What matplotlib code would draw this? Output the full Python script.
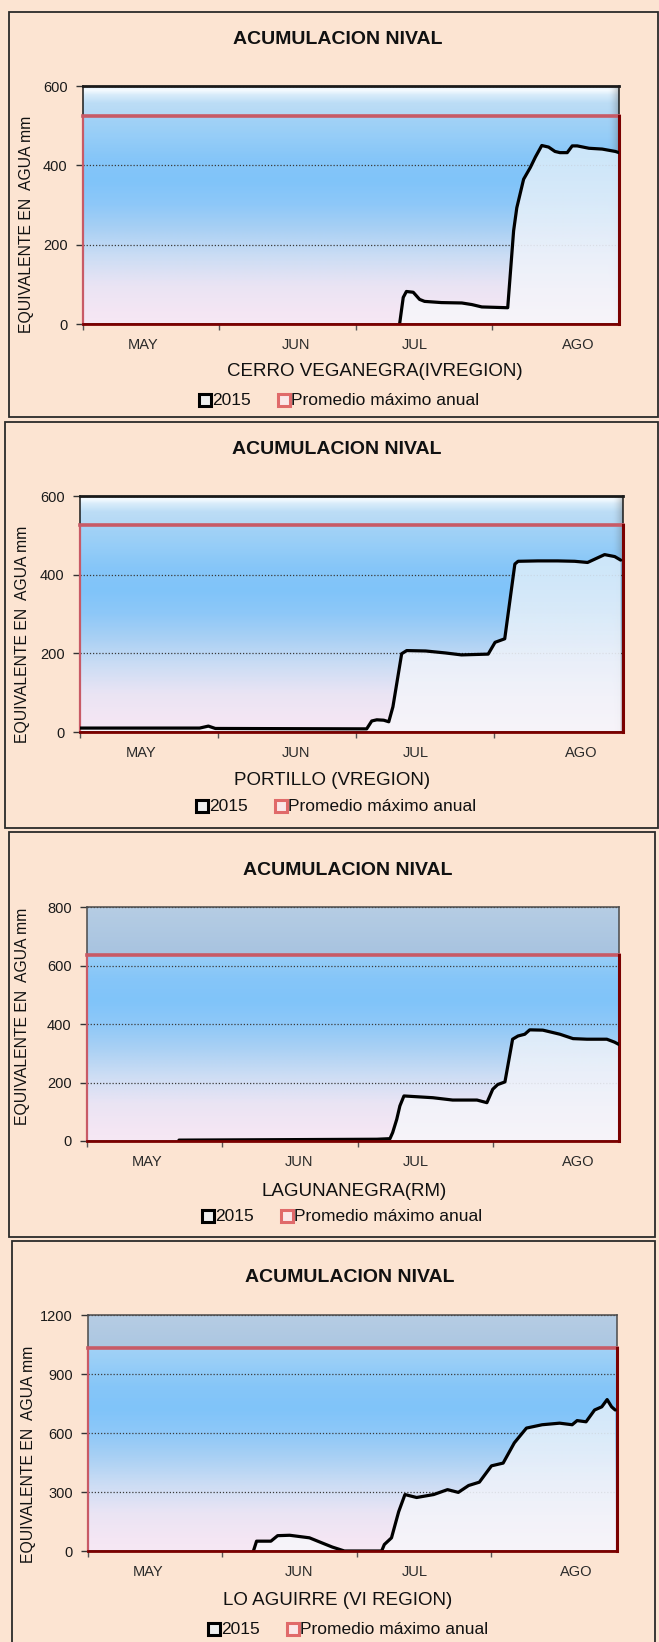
import numpy as np
import matplotlib.pyplot as plt
from matplotlib.colors import LinearSegmentedColormap
from matplotlib.lines import Line2D
from matplotlib.patches import Rectangle

plt.rcParams['font.family'] = ['Liberation Sans', 'DejaVu Sans']

W, H = 659, 1642

# eje x en dias contados desde el 1 de mayo
meses = ['MAY', 'JUN', 'JUL', 'AGO']
pos_meses = [13.3, 47, 73, 109]
marcas_x = [0, 30, 60, 90]
x_fin = 118

titulo = 'ACUMULACION NIVAL'
eje_y = 'EQUIVALENTE EN  AGUA mm'
serie_anio = '2015'
serie_prom = 'Promedio máximo anual'

estaciones = ['CERRO VEGANEGRA(IVREGION)', 'PORTILLO (VREGION)',
              'LAGUNANEGRA(RM)', 'LO AGUIRRE (VI REGION)']
prom_max = [525, 525, 635, 1030]
y_max = [600, 600, 800, 1200]
y_paso = [200, 200, 200, 300]

# 2015, equivalente en agua (mm)
dias_1 = [69.7, 70.5, 71.2, 72.7, 74.1, 75.2, 78.9, 83.4, 85.6, 87.8, 93.5, 94.8,
          95.5, 97.0, 98.5, 99.6, 101.0, 102.5, 103.9, 105.0, 106.6, 107.7, 108.8,
          111.4, 114.3, 117.2, 118.0]
swe_1 = [0, 67, 82, 80, 62, 57, 54, 53, 49, 43, 41, 235,
         293, 365, 395, 421, 450, 446, 435, 432, 432, 449, 449,
         443, 441, 435, 432]

dias_2 = [0, 26, 27.9, 29.4, 62.3, 63.4, 64.5, 66.0, 67.1, 68.0, 69.9, 71.0, 75.1,
          79.4, 82.9, 88.7, 90.2, 92.3, 94.5, 95.2, 99.5, 103.8, 107.5, 110.3,
          114.0, 116.2, 117.5]
swe_2 = [10, 10, 15, 9, 8, 28, 31, 30, 26, 64, 199, 207, 206,
         201, 196, 198, 228, 237, 427, 434, 435, 435, 434, 431,
         451, 446, 437]

dias_3 = [20.4, 64.3, 67.2, 67.8, 68.7, 69.4, 70.3, 76.7, 81.1, 86.5, 88.7, 90.0,
          91.1, 92.7, 94.4, 95.6, 97.1, 98.2, 101.1, 104.9, 107.8, 110.9, 115.3,
          117.0, 118.0]
swe_3 = [3, 6, 8, 29, 74, 120, 154, 148, 140, 140, 131, 177,
         193, 202, 348, 359, 365, 380, 379, 365, 350, 348, 348,
         338, 330]

dias_4 = [36.9, 37.6, 40.8, 42.3, 45.0, 49.4, 52.1, 54.5, 57.2, 65.5, 66.1, 67.7,
          69.3, 70.7, 73.3, 77.1, 80.2, 82.6, 84.9, 87.3, 90.0, 92.6, 95.1, 97.8,
          101.3, 105.2, 108.0, 109.1, 111.1, 113.0, 114.6, 115.8, 116.8, 117.6]
swe_4 = [0, 50, 50, 78, 80, 67, 42, 20, 0, 0, 33, 67,
         200, 287, 272, 287, 312, 298, 333, 350, 433, 447, 550, 625,
         642, 650, 642, 663, 657, 717, 733, 770, 733, 717]

dias = [dias_1, dias_2, dias_3, dias_4]
swe = [swe_1, swe_2, swe_3, swe_4]

# ubicacion de cada grafico (pixeles)
cajas = [(9, 12, 658, 417), (5, 422, 658, 828), (9, 832, 655, 1237), (12, 1241, 655, 1660)]
areas = [(83, 86, 619, 324), (80, 496, 623, 732), (87, 907, 619, 1141), (88, 1315, 617, 1551)]
pos_titulo = [(338, 40), (337, 450), (348, 870), (350, 1277)]
pos_eje_y = [(27, 224), (23, 634), (23, 1016), (29, 1454)]
pos_sub = [(375, 372), (332, 780), (354, 1191), (338, 1600)]
pos_ley = [(205, 400), (202, 806), (208, 1216), (214, 1629)]

fondo_claro = [(0, '#F3E8F4'), (0.85, '#B0D6F4'), (0.93, '#BCDDF6'), (0.965, '#D8ECFA'),
               (0.985, '#F6FBFF'), (1, '#DDEFFB')]
fondo_gris = [(0, '#F3E8F4'), (0.75, '#A4C1DF'), (1, '#B6CDE4')]
cielo = [(0, '#F6E8F4'), (0.05, '#F4E6F3'), (0.16, '#EAE4F4'), (0.28, '#CCDDF4'),
         (0.4, '#A8D0F4'), (0.5, '#8EC8F8'), (0.6, '#80C4FA'), (0.7, '#86C6F8'),
         (0.8, '#98CEF7'), (0.9, '#A8D4F6'), (1, '#B0D8F6')]
relleno = [(0, '#F8F6FB'), (0.3, '#EEF2FA'), (0.55, '#E0EEFA'), (0.75, '#D4EAFB'),
           (1, '#C8E4FC')]


def fx(x):
    return x / W


def fy(y):
    return 1 - y / H


def pintar(ax, tonos, y0, y1, ym, z, alpha=1.0):
    cmap = LinearSegmentedColormap.from_list('g', tonos)
    grad = np.linspace(y0 / ym, y1 / ym, 256).reshape(-1, 1)
    return ax.imshow(grad, cmap=cmap, vmin=0, vmax=1, extent=[0, x_fin, y0, y1],
                     origin='lower', aspect='auto', zorder=z, alpha=alpha,
                     interpolation='bilinear')


fig = plt.figure(figsize=(W / 100, H / 100), dpi=100)
fig.patch.set_facecolor('#FCE4D2')

for i in range(4):
    l, t, r, b = cajas[i]
    fig.add_artist(Rectangle((fx(l), fy(b)), fx(r) - fx(l), fy(t) - fy(b),
                             transform=fig.transFigure, fill=False,
                             edgecolor='#2a2a2a', linewidth=1.3))

    l, t, r, b = areas[i]
    ax = fig.add_axes([fx(l), fy(b), fx(r) - fx(l), fy(t) - fy(b)])
    ym = y_max[i]
    pm = prom_max[i]

    pintar(ax, fondo_claro if i < 2 else fondo_gris, 0, ym, ym, 0.2)
    pintar(ax, cielo, 0, pm, ym, 0.4)

    if i < 2:
        # sombra del borde derecho
        sombra = np.zeros((1, 40, 4))
        sombra[0, :, :3] = 0.33
        sombra[0, :, 3] = np.linspace(0, 0.6, 40) ** 2
        ax.imshow(sombra, extent=[x_fin - 2.6, x_fin, 0, ym], aspect='auto',
                  zorder=0.6, interpolation='bilinear')

    # serie 2015
    area = ax.fill_between(dias[i], swe[i], 0, facecolor='none', edgecolor='none')
    im = pintar(ax, relleno, 0, ym, ym, 2, alpha=0.9)
    im.set_clip_path(area.get_paths()[0], ax.transData)
    ax.plot(dias[i], swe[i], color='black', lw=2.3, zorder=4,
            solid_joinstyle='round', solid_capstyle='round')

    # promedio maximo anual
    ax.plot([0, x_fin], [pm, pm], color='#C85A66', lw=2.6, zorder=3, clip_on=False)
    ax.plot([0, 0], [0, pm], color='#C85A66', lw=1.6, zorder=3, clip_on=False)
    ax.plot([x_fin, x_fin], [0, pm], color='#7A0000', lw=2.2, zorder=3, clip_on=False)
    ax.plot([0, x_fin], [0, 0], color='#7A0000', lw=2.0, zorder=5, clip_on=False)

    ax.set_xlim(0, x_fin)
    ax.set_ylim(0, ym)
    ax.set_yticks(np.arange(0, ym + 1, y_paso[i]))
    ax.set_xticks(marcas_x)
    ax.set_xticklabels([])
    ax.set_xticks(pos_meses, minor=True)
    ax.set_xticklabels(meses, minor=True)
    ax.tick_params(axis='x', which='major', direction='out', length=4, width=1,
                   color='#555555')
    ax.tick_params(axis='x', which='minor', length=0, pad=10, labelsize=10.5,
                   labelcolor='#2a2a2a')
    ax.tick_params(axis='y', direction='out', length=5, width=1, pad=6,
                   labelsize=10.5, labelcolor='#1a1a1a', color='#333333')
    ax.set_axisbelow('line')
    ax.yaxis.grid(True, linestyle=(0, (1, 1.5)), color='#3a3a3a', linewidth=0.9)

    borde = '#1a1a1a' if i < 2 else '#4a4a4a'
    for lado, sp in ax.spines.items():
        sp.set_color(borde)
        sp.set_linewidth(2.0 if (lado == 'top' and i < 2) else 1.1)

    x, y = pos_titulo[i]
    fig.text(fx(x), fy(y), titulo, ha='center', va='center', fontsize=14,
             fontweight='bold', color='#111111')
    x, y = pos_eje_y[i]
    fig.text(fx(x), fy(y), eje_y, ha='center', va='center', rotation=90,
             fontsize=11.3, color='#111111')
    x, y = pos_sub[i]
    fig.text(fx(x), fy(y), estaciones[i], ha='center', va='center', fontsize=13.5,
             color='#111111')

    # leyenda
    x, y = pos_ley[i]
    fig.add_artist(Line2D([fx(x)], [fy(y)], marker='s', markersize=8,
                          markerfacecolor='#EEEEEE', markeredgecolor='black',
                          markeredgewidth=2.2, transform=fig.transFigure))
    fig.text(fx(x + 7), fy(y), serie_anio, ha='left', va='center', fontsize=12.5,
             color='#111111')
    x2 = x + 79
    fig.add_artist(Line2D([fx(x2)], [fy(y)], marker='s', markersize=8,
                          markerfacecolor='#FBE8E8', markeredgecolor='#E06A6A',
                          markeredgewidth=2.2, transform=fig.transFigure))
    fig.text(fx(x2 + 7), fy(y), serie_prom, ha='left', va='center', fontsize=12.5,
             color='#111111')

fig.savefig('out.png', dpi=100, facecolor=fig.get_facecolor())
